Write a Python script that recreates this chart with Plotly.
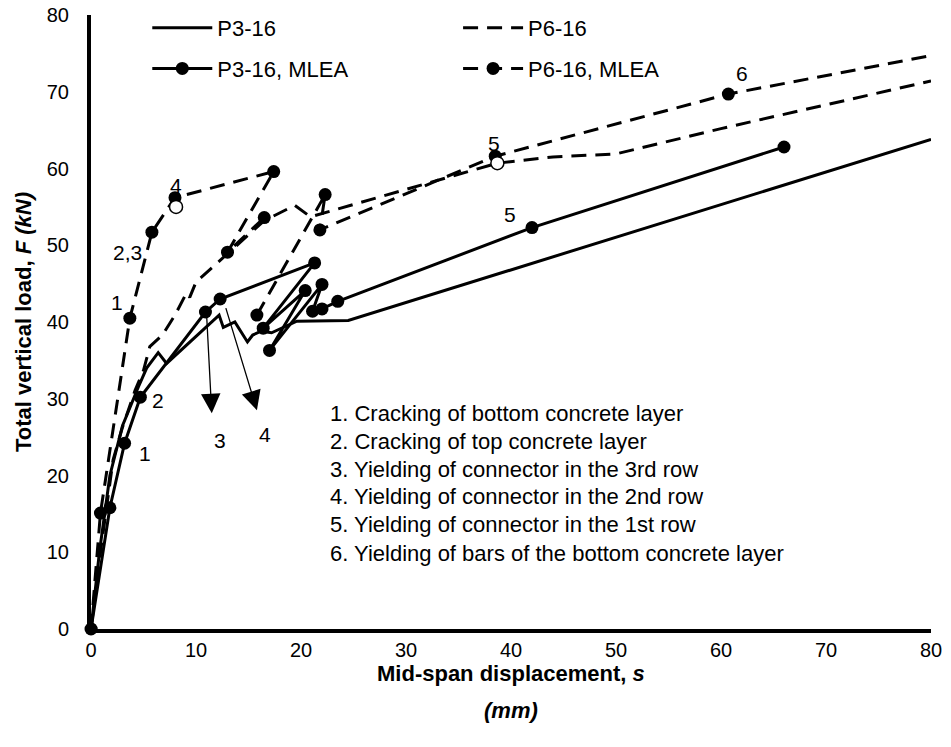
import plotly.graph_objects as go

# ---------------- data ----------------
p3_exp_x = [0, 0.8, 1.8, 3.0, 4.5, 5.3, 6.4, 7.2, 12.2, 12.6, 13.7, 14.9, 15.4, 16.2, 17.2, 19.6, 24.5, 80]
p3_exp_y = [0, 10, 20, 26.5, 31.5, 34.0, 36.0, 34.6, 40.9, 39.3, 40.0, 37.4, 38.3, 38.8, 38.6, 40.1, 40.2, 63.8]

p6_exp_x = [0, 1.0, 2.1, 3.0, 4.2, 5.0, 5.6, 6.8, 8.0, 9.1, 9.4, 10.0, 13.0, 16.5, 19.4, 20.9, 38.7, 44, 50, 60, 70, 80]
p6_exp_y = [0, 11, 22, 26.3, 31.1, 33.7, 36.8, 38.3, 40.9, 43.8, 43.2, 45.2, 48.9, 53.2, 55.2, 53.7, 60.7, 61.5, 61.9, 65.2, 68.3, 71.4]

p3_mlea_x = [0, 1.8, 3.2, 4.7, 10.9, 12.3, 21.3, 16.4, 20.4, 17.0, 22.0, 21.1, 22.0, 23.5, 42.0, 66.0]
p3_mlea_y = [0, 15.8, 24.2, 30.2, 41.3, 43.0, 47.7, 39.2, 44.1, 36.3, 44.9, 41.4, 41.7, 42.7, 52.3, 62.8]

# None marks a break between the two separate MLEA segments
p6_mlea_x = [0, 0.9, 3.7, 5.8, 8.0, 17.4, 13.0, 16.5, None, 15.8, 22.3, 21.8, 38.5, 60.7, 85]
p6_mlea_y = [0, 15.1, 40.5, 51.7, 56.2, 59.6, 49.1, 53.6, None, 40.9, 56.6, 52.0, 61.6, 69.7, 76.0]

open_x = [8.1, 38.7]
open_y = [55.0, 60.7]

event_labels = ["1", "2,3", "4", "5", "6", "1", "2", "3", "4", "5"]
event_x = [2.5, 3.5, 8.1, 38.4, 62.0, 5.1, 6.4, 12.3, 16.6, 39.9]
event_y = [42.6, 49.0, 57.8, 63.2, 72.4, 22.9, 29.8, 24.6, 25.4, 54.0]

arrow_tail_x = [11.0, 12.8]
arrow_tail_y = [41.2, 42.0]
arrow_tip_x = [11.5, 15.8]
arrow_tip_y = [28.1, 28.5]

notes = [
    "1. Cracking of bottom concrete layer",
    "2. Cracking of top concrete layer",
    "3. Yielding of connector in the 3rd row",
    "4. Yielding of connector in the 2nd row",
    "5. Yielding of connector in the 1st row",
    "6. Yielding of bars of the bottom concrete layer",
]
notes_x = 22.6
notes_y = [28.1, 24.4, 20.8, 17.2, 13.6, 9.9]

FONT = "Liberation Sans, Arial, sans-serif"
DASH = "15px,9px"

fig = go.Figure()
fig.add_trace(go.Scatter(x=p3_exp_x, y=p3_exp_y, mode="lines", name="P3-16",
                         line=dict(color="black", width=3), legend="legend",
                         legendgroup="a"))
fig.add_trace(go.Scatter(x=p3_mlea_x, y=p3_mlea_y, mode="lines+markers", name="P3-16, MLEA",
                         line=dict(color="black", width=3), marker=dict(size=13, color="black"),
                         cliponaxis=False, legend="legend", legendgroup="b"))
fig.add_trace(go.Scatter(x=p6_exp_x, y=p6_exp_y, mode="lines", name="P6-16",
                         line=dict(color="black", width=3, dash=DASH), legend="legend2",
                         legendgroup="c"))
fig.add_trace(go.Scatter(x=p6_mlea_x, y=p6_mlea_y, mode="lines+markers", name="P6-16, MLEA",
                         line=dict(color="black", width=3, dash=DASH), marker=dict(size=13, color="black"),
                         connectgaps=False, legend="legend2", legendgroup="d"))
fig.add_trace(go.Scatter(x=open_x, y=open_y, mode="markers", showlegend=False,
                         marker=dict(size=13, color="white", line=dict(color="black", width=1.5))))

for t, x, y in zip(event_labels, event_x, event_y):
    fig.add_annotation(x=x, y=y, text=t, showarrow=False,
                       font=dict(family=FONT, size=21, color="black"))

for tx, ty, hx, hy in zip(arrow_tail_x, arrow_tail_y, arrow_tip_x, arrow_tip_y):
    fig.add_annotation(x=hx, y=hy, ax=tx, ay=ty, axref="x", ayref="y", text="",
                       showarrow=True, arrowhead=2, arrowsize=3, arrowwidth=1.3,
                       arrowcolor="black")

for t, y in zip(notes, notes_y):
    fig.add_annotation(x=notes_x, y=y, text=t, showarrow=False, xanchor="left",
                       font=dict(family=FONT, size=22, color="black"))

fig.add_annotation(xref="paper", yref="paper", x=0.5, y=-0.073, yanchor="middle",
                   text="<b>Mid-span displacement, <i>s</i></b>", showarrow=False,
                   font=dict(family=FONT, size=22, color="black"))
fig.add_annotation(xref="paper", yref="paper", x=0.5, y=-0.133, yanchor="middle",
                   text="<b><i>(mm)</i></b>", showarrow=False,
                   font=dict(family=FONT, size=22, color="black"))

legend_common = dict(font=dict(family=FONT, size=22, color="black"), bgcolor="rgba(0,0,0,0)",
                     orientation="v", xanchor="left", yanchor="top", traceorder="grouped",
                     tracegroupgap=9, itemwidth=60)

fig.update_layout(
    width=951, height=747,
    margin=dict(l=91, r=20, t=15, b=118, autoexpand=False),
    paper_bgcolor="white", plot_bgcolor="white",
    font=dict(family=FONT, size=21, color="black"),
    legend=dict(x=0.067, y=1.013, **legend_common),
    legend2=dict(x=0.437, y=1.013, **legend_common),
    xaxis=dict(range=[0, 80], dtick=10, showgrid=False, zeroline=False, automargin=False,
               showline=True, linecolor="black", linewidth=4, ticks="",
               ticklabelstandoff=0, tickfont=dict(family=FONT, size=20, color="black")),
    yaxis=dict(range=[0, 80], dtick=10, showgrid=False, zeroline=False, automargin=False,
               showline=True, linecolor="black", linewidth=4, ticks="",
               ticklabelstandoff=14, tickfont=dict(family=FONT, size=20, color="black"),
               title=dict(text="<b>Total vertical load, <i>F (kN)</i></b>",
                          font=dict(family=FONT, size=22, color="black"), standoff=10)),
)

fig.write_html("out.html")
